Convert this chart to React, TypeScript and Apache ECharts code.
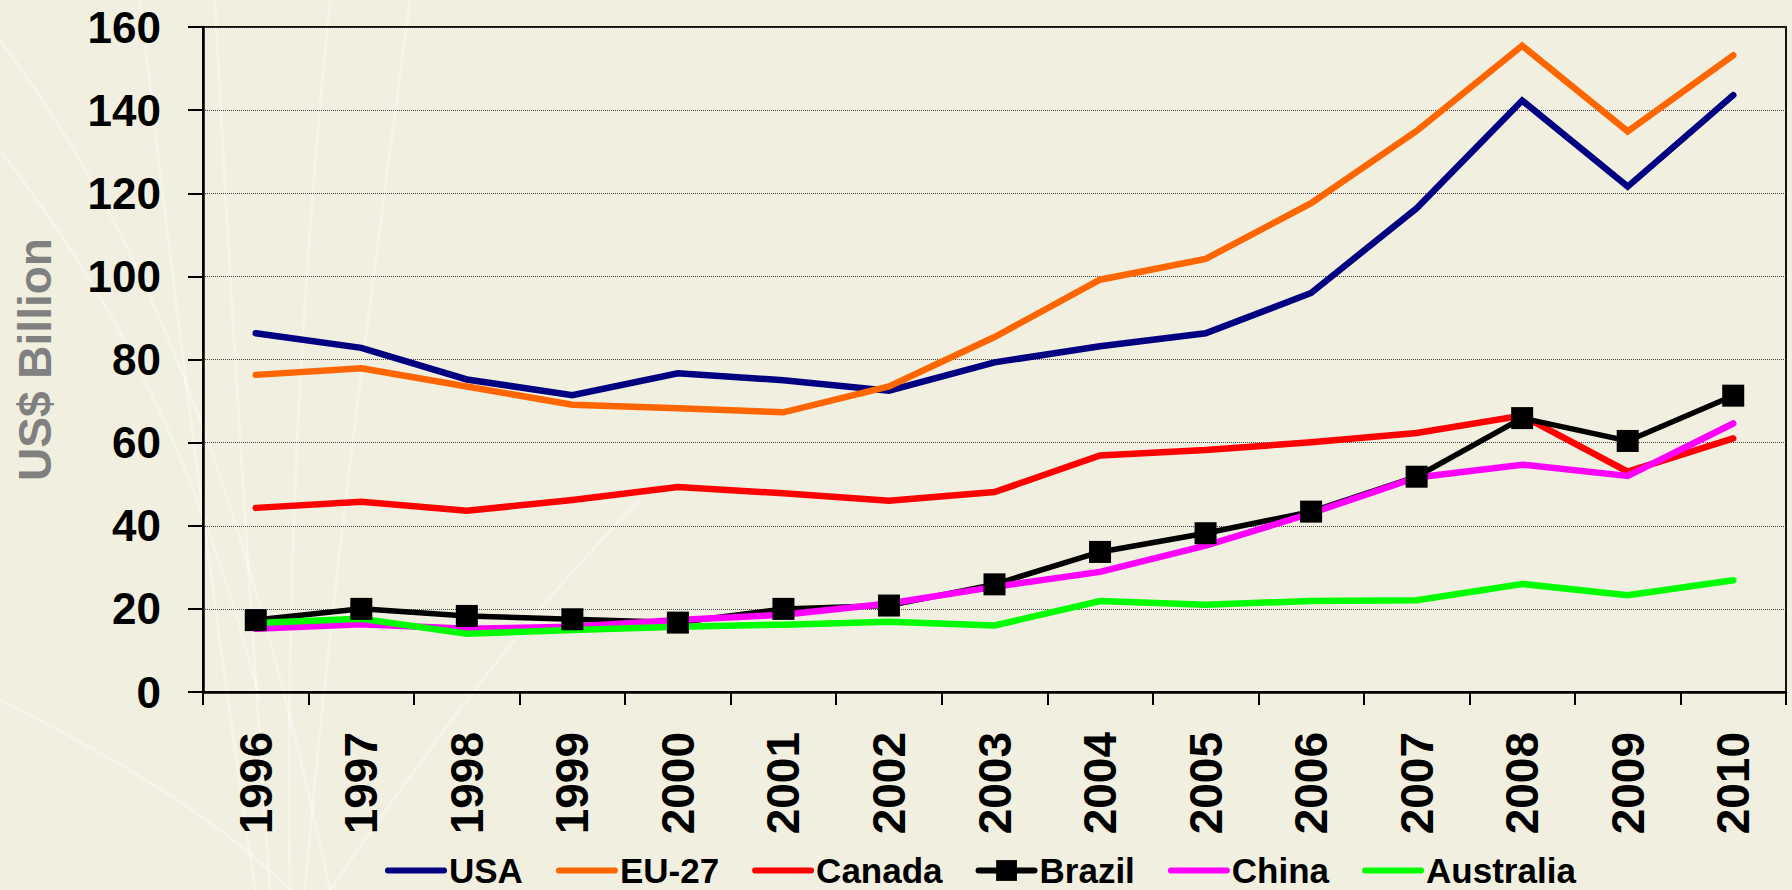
import React, { useEffect, useRef } from "react";
import * as echarts from "echarts";

const years = ["1996", "1997", "1998", "1999", "2000", "2001", "2002", "2003", "2004", "2005", "2006", "2007", "2008", "2009", "2010"];
const usa = [86.3, 82.8, 75.2, 71.4, 76.7, 75.0, 72.5, 79.3, 83.2, 86.3, 96.0, 116.4, 142.3, 121.6, 143.6];
const eu27 = [76.3, 77.9, 73.5, 69.1, 68.3, 67.3, 73.5, 85.4, 99.2, 104.2, 117.6, 135.0, 155.5, 134.9, 153.2];
const canada = [44.3, 45.8, 43.6, 46.2, 49.3, 47.8, 46.0, 48.1, 56.9, 58.2, 60.1, 62.3, 66.5, 53.0, 61.0];
const brazil = [17.3, 20.0, 18.3, 17.5, 16.7, 20.0, 20.8, 25.9, 33.7, 38.2, 43.4, 51.8, 65.9, 60.4, 71.3];
const china = [15.2, 16.3, 15.2, 15.7, 17.3, 18.6, 21.3, 25.3, 28.9, 35.2, 43.0, 51.6, 54.7, 52.0, 64.6];
const australia = [16.6, 17.6, 14.0, 14.9, 15.7, 16.2, 16.9, 16.0, 21.9, 21.0, 21.9, 22.1, 26.0, 23.3, 26.9];

const seriesNames = ["USA", "EU-27", "Canada", "Brazil", "China", "Australia"];
const seriesValues = [usa, eu27, canada, brazil, china, australia];
const seriesColors = ["#000080", "#FF6600", "#FF0000", "#000000", "#FF00FF", "#00FF00"];

const yAxisTitle = "US$ Billion";
const FONT = "'Liberation Sans', Arial, Helvetica, sans-serif";

// faint decorative background strokes
const bgCurves: number[][] = [
  [270, 890, 250, 600, 230, 300, 215, 0],
  [290, 890, 285, 600, 300, 300, 330, 0],
  [305, 890, 330, 600, 370, 300, 410, 0],
  [255, 890, 220, 650, 180, 350, 140, 0],
  [0, 40, 120, 200, 230, 420, 330, 890],
  [0, 150, 100, 280, 190, 430, 260, 700],
  [0, 700, 120, 760, 220, 820, 290, 890],
  [330, 890, 420, 760, 520, 620, 640, 500],
];

export default function App() {
  const ref = useRef<HTMLDivElement>(null);
  useEffect(() => {
    const chart = echarts.init(ref.current!, null, { renderer: "svg" });
    const graphics = bgCurves.map((c) => ({
      type: "bezierCurve",
      z: -10,
      silent: true,
      shape: { x1: c[0], y1: c[1], cpx1: c[2], cpy1: c[3], cpx2: c[4], cpy2: c[5], x2: c[6], y2: c[7] },
      style: { stroke: "rgba(255,255,255,0.35)", lineWidth: 3, fill: null },
    }));
    const option: any = {
      animation: false,
      backgroundColor: "#F1EFDF",
      textStyle: { fontFamily: FONT },
      graphic: graphics,
      grid: {
        left: 203,
        right: 6,
        top: 27,
        bottom: 198,
        show: true,
        borderColor: "#111",
        borderWidth: 2,
        backgroundColor: "transparent",
      },
      legend: {
        left: 380,
        top: 848,
        itemWidth: 56,
        itemHeight: 26,
        itemGap: 33,
        lineStyle: { width: 6, cap: "round" },
        textStyle: { fontSize: 35, fontWeight: "bold", color: "#000", fontFamily: FONT },
        data: seriesNames.map((n) =>
          n === "Brazil" ? { name: n } : { name: n, itemStyle: { opacity: 0 } }
        ),
      },
      xAxis: {
        type: "category",
        data: years,
        boundaryGap: true,
        axisLine: { lineStyle: { color: "#000", width: 2.5 } },
        axisTick: { show: true, length: 13, lineStyle: { color: "#000", width: 2 } },
        axisLabel: {
          rotate: 90,
          margin: 40,
          fontSize: 46,
          fontWeight: "bold",
          color: "#000",
          fontFamily: FONT,
        },
        splitLine: { show: false },
      },
      yAxis: {
        type: "value",
        min: 0,
        max: 160,
        interval: 20,
        name: yAxisTitle,
        nameLocation: "middle",
        nameGap: 145,
        nameTextStyle: { color: "#808080", fontSize: 46, fontWeight: "bold", fontFamily: FONT },
        axisLine: { show: true, lineStyle: { color: "#000", width: 2.5 } },
        axisTick: { show: true, length: 15, lineStyle: { color: "#000", width: 2 } },
        axisLabel: { margin: 42, fontSize: 44, fontWeight: "bold", color: "#000", fontFamily: FONT },
        splitLine: { show: true, lineStyle: { color: "#444", width: 1, type: "dotted" } },
      },
      series: seriesNames.map((name, i) => ({
        name,
        type: "line",
        data: seriesValues[i],
        symbol: name === "Brazil" ? "rect" : "none",
        symbolSize: 22,
        showSymbol: name === "Brazil",
        color: seriesColors[i],
        itemStyle: { color: seriesColors[i] },
        lineStyle: { color: seriesColors[i], width: name === "Brazil" ? 5.5 : 6.5, cap: "round", join: "miter" },
        emphasis: { disabled: true },
      })),
    };
    chart.setOption(option);
    return () => chart.dispose();
  }, []);
  return <div ref={ref} style={{ position: "fixed", left: 0, top: 0, width: 1792, height: 890 }} />;
}
